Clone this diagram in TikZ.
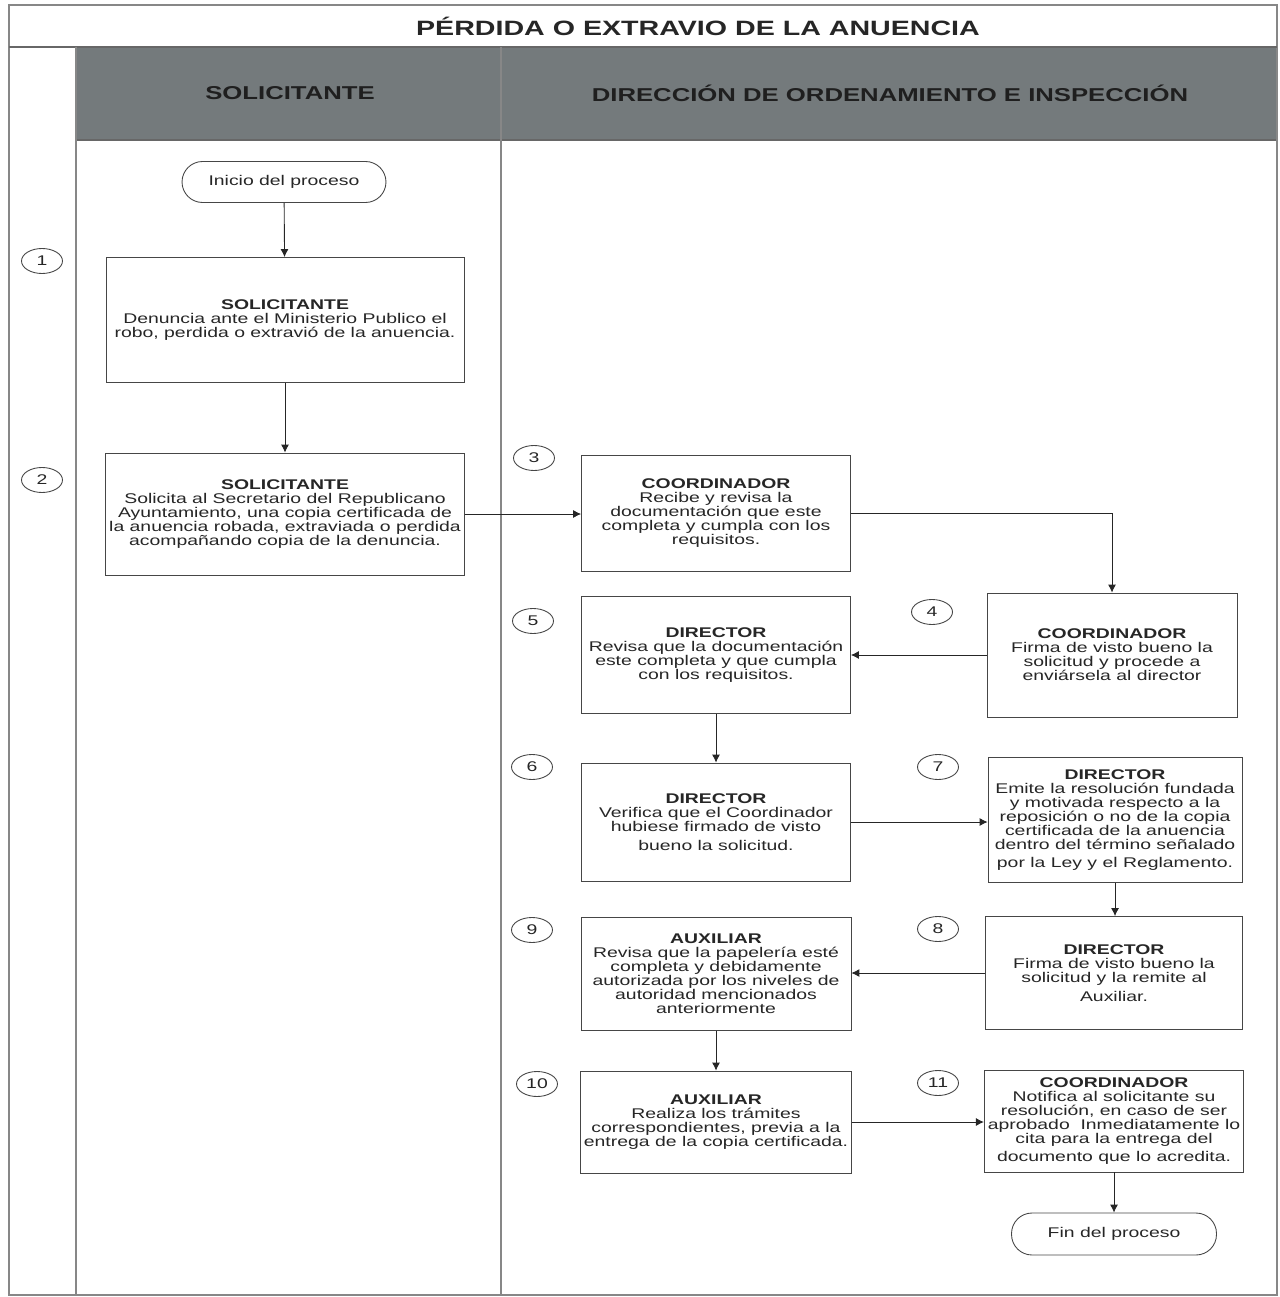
\documentclass[tikz,border=0pt]{standalone}
\usepackage{fontspec}
\setmainfont{Liberation Sans}[FakeStretch=1.38]
\usetikzlibrary{arrows.meta,shapes.geometric}

\definecolor{bandgray}{RGB}{116,122,124}
\definecolor{inkgray}{RGB}{38,38,38}
\definecolor{boxgray}{RGB}{70,70,70}
\definecolor{lanegray}{RGB}{135,135,135}

\begin{document}
\begin{tikzpicture}
[x=0.02cm, y=-0.02cm, font=\fontsize{8}{8}\selectfont, text=inkgray,
% STYLES
% boxes of the flow
task/.style={rectangle, draw=boxgray, line width=0.5pt, fill=white, align=center, inner sep=2pt},
% start and end of the process
terminal/.style={rectangle, rounded corners=0.41cm, draw=boxgray, line width=0.5pt, align=center, minimum width=4.08cm, minimum height=0.82cm},
% step numbers
stepnum/.style={ellipse, draw=boxgray, line width=0.5pt, minimum width=0.82cm, minimum height=0.5cm, inner sep=0pt},
% lanes
lane/.style={draw=lanegray, line width=0.6pt},
flow/.style={-{Latex[length=4.5pt,width=4.5pt]}, color=inkgray, line width=0.5pt}]

\useasboundingbox (0,0) rectangle (1279,1297);

% Frame and lanes
\fill[bandgray] (76,47) rectangle (1277,140);
\draw[inkgray!70, line width=0.8pt] (76,47) rectangle (1277,140);
\draw[lane] (9,5) rectangle (1277,1295);
\draw[inkgray!70, line width=0.8pt] (9,47) -- (1277,47);
\draw[lane] (76,47) -- (76,1295);
\draw[lane] (501,47) -- (501,1295);

\node[font=\fontsize{11.8}{12}\selectfont\bfseries] (title) at (698,26) {PÉRDIDA O EXTRAVIO DE LA ANUENCIA};
\node[font=\fontsize{10.6}{11}\selectfont\bfseries, text=black!88] (lane-sol) at (290,93) {SOLICITANTE};
\node[font=\fontsize{10.6}{11}\selectfont\bfseries, text=black!88] (lane-dir) at (890,93) {DIRECCIÓN DE ORDENAMIENTO E INSPECCIÓN};

% Draw steps
\node[terminal] (start) at (284,182) {Inicio del proceso};
\node[task, minimum width=7.16cm, minimum height=2.5cm] (s1) at (285,320)
  {\textbf{SOLICITANTE}\\Denuncia ante el Ministerio Publico el\\robo, perdida o extravió de la anuencia.};
\node[task, minimum width=7.16cm, minimum height=2.44cm] (s2) at (285,514)
  {\textbf{SOLICITANTE}\\Solicita al Secretario del Republicano\\Ayuntamiento, una copia certificada de\\la anuencia robada, extraviada o perdida\\acompañando copia de la denuncia.};
\node[task, minimum width=5.38cm, minimum height=2.32cm] (s3) at (716,513)
  {\textbf{COORDINADOR}\\Recibe y revisa la\\documentación que este\\completa y cumpla con los\\requisitos.};
\node[task, minimum width=5cm, minimum height=2.48cm] (s4) at (1112,655)
  {\textbf{COORDINADOR}\\Firma de visto bueno la\\solicitud y procede a\\enviársela al director};
\node[task, minimum width=5.38cm, minimum height=2.34cm] (s5) at (716,655)
  {\textbf{DIRECTOR}\\Revisa que la documentación\\este completa y que cumpla\\con los requisitos.};
\node[task, minimum width=5.38cm, minimum height=2.36cm] (s6) at (716,822)
  {\textbf{DIRECTOR}\\Verifica que el Coordinador\\hubiese firmado de visto\\[3pt]bueno la solicitud.};
\node[task, minimum width=5.08cm, minimum height=2.5cm] (s7) at (1115,820)
  {\textbf{DIRECTOR}\\Emite la resolución fundada\\y motivada respecto a la\\reposición o no de la copia\\certificada de la anuencia\\dentro del término señalado\\[2pt]por la Ley y el Reglamento.};
\node[task, minimum width=5.14cm, minimum height=2.26cm] (s8) at (1114,973)
  {\textbf{DIRECTOR}\\Firma de visto bueno la\\solicitud y la remite al\\[3pt]Auxiliar.};
\node[task, minimum width=5.4cm, minimum height=2.26cm] (s9) at (716,974)
  {\textbf{AUXILIAR}\\Revisa que la papelería esté\\completa y debidamente\\autorizada por los niveles de\\autoridad mencionados\\anteriormente};
\node[task, minimum width=5.4cm, minimum height=2.04cm] (s10) at (716,1122)
  {\textbf{AUXILIAR}\\Realiza los trámites\\correspondientes, previa a la\\entrega de la copia certificada.};
\node[task, minimum width=5.14cm, minimum height=2.04cm] (s11) at (1114,1121)
  {\textbf{COORDINADOR}\\Notifica al solicitante su\\resolución, en caso de ser\\aprobado\ \ Inmediatamente lo\\cita para la entrega del\\[2pt]documento que lo acredita.};
\node[terminal, minimum width=4.1cm, minimum height=0.84cm] (finish) at (1114,1234) {Fin del proceso};

% Step numbers
\node[stepnum] (n1) at (42,261) {1};
\node[stepnum] (n2) at (42,480) {2};
\node[stepnum] (n3) at (534,458) {3};
\node[stepnum] (n4) at (932,612) {4};
\node[stepnum] (n5) at (533,621) {5};
\node[stepnum] (n6) at (532,767) {6};
\node[stepnum] (n7) at (938,767) {7};
\node[stepnum] (n8) at (938,929) {8};
\node[stepnum] (n9) at (532,930) {9};
\node[stepnum] (n10) at (537,1084) {10};
\node[stepnum] (n11) at (938,1083) {11};

% Draw the links between steps
\path[flow]
(start) edge (s1)
(s1) edge (s2)
(s2.east) edge (s2.east -| s3.west)
(s4.west) edge (s4.west -| s5.east)
(s5) edge (s6)
(s6.east) edge (s6.east -| s7.west)
(s7.south) edge (s7.south |- s8.north)
(s8.west) edge (s8.west -| s9.east)
(s9) edge (s10)
(s10.east) edge (s10.east -| s11.west)
(s11) edge (finish);
\draw[flow] (s3.east) -| (s4.north);

\end{tikzpicture}
\end{document}
